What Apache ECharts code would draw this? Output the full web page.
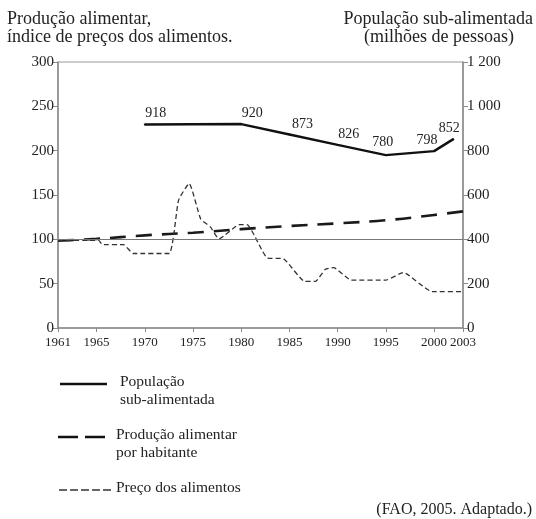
<!DOCTYPE html>
<html><head><meta charset="utf-8">
<script src="https://cdn.jsdelivr.net/npm/echarts@6/dist/echarts.min.js"></script>
<style>html,body{margin:0;padding:0;background:#fff}#c{width:536px;height:519px}</style>
</head><body><div id="c"></div>
<script>
// Data
const xTicks = [1961, 1965, 1970, 1975, 1980, 1985, 1990, 1995, 2000, 2003];
const popYears = [1970, 1980, 1985, 1990, 1995, 2000, 2002];
const popValues = [918, 920, 873, 826, 780, 798, 852];
const prodYears = [1961, 1965, 1970, 1975, 1980, 1985, 1990, 1995, 2000, 2003];
const prodValues = [98.5, 100.5, 104.5, 107.5, 111.5, 115, 118, 121.5, 127.5, 131.5];
const priceYears = [1961, 1965.2, 1965.6, 1967.8, 1968.8, 1972.5, 1973.5, 1974.6, 1975.8, 1976.8, 1977.7, 1979.8, 1980.6, 1982.7, 1984.4, 1986.6, 1987.7, 1988.7, 1989.6, 1991.4, 1995, 1996.8, 1999.8, 2003];
const priceValues = [98.5, 99, 94, 94, 84, 84, 144, 163, 123, 114, 100.5, 116.5, 116.5, 79, 78, 52.5, 52.5, 66, 68, 54, 54, 62.6, 41, 41];

const serif = "'Liberation Serif', 'DejaVu Serif', serif";
const labelOffsets = [[11, 0], [11, 0], [13, 1], [11, 0], [-3, -2], [-7, 0], [-4, 0]];

const chart = echarts.init(document.getElementById('c'), null, {renderer: 'canvas'});
const axisGray = '#8a8a8a';

const option = {
  animation: false,
  backgroundColor: '#fff',
  textStyle: {fontFamily: serif},
  grid: {left: 58, right: 73, top: 62, bottom: 191, show: true, borderColor: '#9a9a9a', borderWidth: 1},
  xAxis: {
    type: 'value', min: 1961, max: 2003,
    axisLine: {show: true, lineStyle: {color: axisGray, width: 1.5}},
    axisTick: {show: true, length: 4, customValues: xTicks, lineStyle: {color: axisGray}},
    axisLabel: {customValues: xTicks, color: '#222', fontFamily: serif, fontSize: 13, margin: 8, hideOverlap: false,
      formatter: v => String(v)},
    splitLine: {show: false}
  },
  yAxis: [{
    type: 'value', min: 0, max: 300, interval: 50, position: 'left',
    axisLine: {show: true, lineStyle: {color: axisGray, width: 1.5}},
    axisTick: {show: true, length: 5, lineStyle: {color: axisGray}},
    axisLabel: {color: '#222', fontFamily: serif, fontSize: 15, margin: 4},
    splitLine: {show: false}
  }, {
    type: 'value', min: 0, max: 1200, interval: 200, position: 'right',
    axisLine: {show: true, lineStyle: {color: axisGray, width: 1.5}},
    axisTick: {show: true, length: 5, lineStyle: {color: axisGray}},
    axisLabel: {color: '#222', fontFamily: serif, fontSize: 15, margin: 4,
      formatter: v => v >= 1000 ? String(v).replace(/(\d)(\d{3})$/, '$1 $2') : String(v)},
    splitLine: {show: false}
  }],
  series: [{
    name: 'Produção alimentar por habitante', type: 'line', yAxisIndex: 0, symbol: 'none', smooth: 0.4,
    data: prodYears.map((y, i) => [y, prodValues[i]]),
    lineStyle: {color: '#1a1a1a', width: 2.6, type: [16, 10]},
    markLine: {silent: true, symbol: 'none', label: {show: false},
      lineStyle: {color: '#777', width: 1.2, type: 'solid'}, data: [{yAxis: 100}]},
    z: 3
  }, {
    name: 'Preço dos alimentos', type: 'line', yAxisIndex: 0, symbol: 'none', smooth: 0.15,
    data: priceYears.map((y, i) => [y, priceValues[i]]),
    lineStyle: {color: '#333', width: 1.3, type: [5, 3]},
    z: 4
  }, {
    name: 'População sub-alimentada', type: 'line', yAxisIndex: 1,
    symbol: 'circle', symbolSize: 2, showSymbol: true, itemStyle: {color: '#111'},
    data: popYears.map((y, i) => ({value: [y, popValues[i]], label: {offset: labelOffsets[i]}})),
    lineStyle: {color: '#111', width: 2.4},
    label: {show: true, position: 'top', distance: 3, color: '#222', fontFamily: serif, fontSize: 14,
      formatter: p => String(p.value[1])},
    z: 5
  }],
  graphic: [
    {type: 'text', left: 7, top: 10, style: {text: 'Produção alimentar,\níndice de preços dos alimentos.', font: '18px ' + serif, fill: '#222', lineHeight: 18}},
    {type: 'text', right: 3, top: 10, style: {text: 'População sub-alimentada', font: '18px ' + serif, fill: '#222'}},
    {type: 'text', x: 439, y: 28, style: {text: '(milhões de pessoas)', font: '18px ' + serif, fill: '#222', align: 'center'}},
    // legend
    {type: 'line', shape: {x1: 60, y1: 384, x2: 107, y2: 384}, style: {stroke: '#111', lineWidth: 2.6}},
    {type: 'text', x: 120, y: 373, style: {text: 'População\nsub-alimentada', font: '15.5px ' + serif, fill: '#222', lineHeight: 18}},
    {type: 'line', shape: {x1: 58, y1: 437, x2: 107, y2: 437}, style: {stroke: '#111', lineWidth: 2.6, lineDash: [20, 7]}},
    {type: 'text', x: 116, y: 426, style: {text: 'Produção alimentar\npor habitante', font: '15.5px ' + serif, fill: '#222', lineHeight: 18}},
    {type: 'line', shape: {x1: 59, y1: 490, x2: 114, y2: 490}, style: {stroke: '#333', lineWidth: 1.3, lineDash: [8, 3]}},
    {type: 'text', x: 116, y: 480, style: {text: 'Preço dos alimentos', font: '15.5px ' + serif, fill: '#222'}},
    {type: 'text', right: 4, top: 502, style: {text: '(FAO, 2005. Adaptado.)', font: '16px ' + serif, fill: '#222'}}
  ]
};
chart.setOption(option);
</script>
</body></html>
